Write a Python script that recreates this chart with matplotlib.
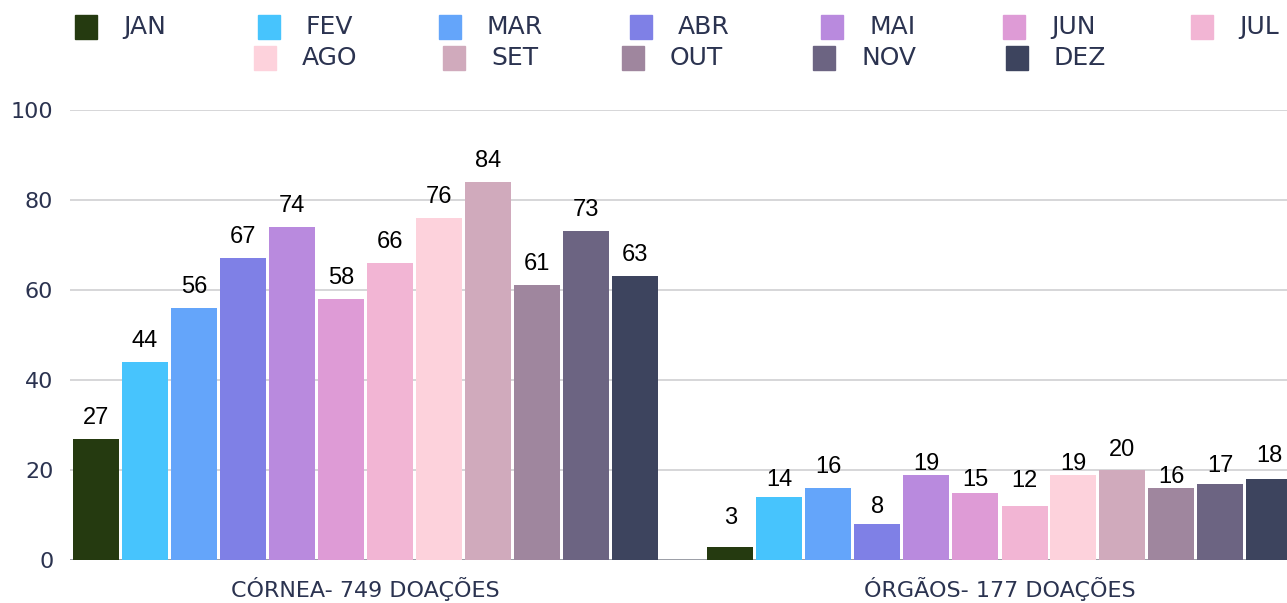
import matplotlib
matplotlib.use('Agg')
import matplotlib.pyplot as plt
from matplotlib.patches import Rectangle

months = ['JAN', 'FEV', 'MAR', 'ABR', 'MAI', 'JUN', 'JUL', 'AGO', 'SET', 'OUT', 'NOV', 'DEZ']
groups = ['CÓRNEA- 749 DOAÇÕES', 'ÓRGÃOS- 177 DOAÇÕES']
cornea = [27, 44, 56, 67, 74, 58, 66, 76, 84, 61, 73, 63]
orgaos = [3, 14, 16, 8, 19, 15, 12, 19, 20, 16, 17, 18]
colors = ['#253a10', '#47c4fd', '#64a5fa', '#7f80e6', '#b98ade', '#de9bd6',
          '#f2b5d4', '#fdd2dc', '#d0aabc', '#9f869e', '#6c6482', '#3d445e']

W, H = 1287, 603
text_col = '#2b3350'
ui_font = ['DejaVu Sans']
num_font = ['Liberation Sans', 'DejaVu Sans']

fig = plt.figure(figsize=(W / 100, H / 100), dpi=100)
ax = fig.add_axes([70 / W, 43 / H, (W - 70) / W, 450 / H])

slot = 49 / 634.6
bw = 46 / 634.6
# label gaps (px) above bars, the second group is uneven in the original
pads = [[10] * 12, [18, 6, 10, 6, -1, 1, 14, -1, 9, 0, 6, 12]]

for g, vals in enumerate([cornea, orgaos]):
    for i, v in enumerate(vals):
        x = g + (i - 5.5) * slot
        ax.bar(x, v, width=bw, color=colors[i], zorder=3)
        ax.annotate(str(v), (x, v), xytext=(0, pads[g][i] * 0.72), textcoords='offset points',
                    ha='center', va='bottom', fontsize=17, family=num_font, color='black', zorder=4)

ax.set_ylim(0, 100)
ax.set_xlim((70 - 365.4) / 634.6, (W - 365.4) / 634.6)
ax.set_yticks(range(0, 101, 20))
ax.yaxis.grid(True, color='#d3d3d6', lw=1.3, zorder=0)
ax.axhline(0, color='#8a8e98', lw=1.8, zorder=2)
for s in ax.spines.values():
    s.set_visible(False)
ax.set_xticks([0, 1])
ax.set_xticklabels(groups)
ax.tick_params(length=0, labelsize=16, labelcolor=text_col)
ax.tick_params(axis='y', pad=12)
ax.tick_params(axis='x', pad=12)
for lab in ax.get_xticklabels() + ax.get_yticklabels():
    lab.set_family(ui_font)

# legend, two rows laid out like the original
row1_x = [75, 258, 439, 630, 821, 1003, 1191]
row2_x = [254, 443, 622, 813, 1006]
for i, m in enumerate(months):
    if i < 7:
        px, py = row1_x[i], 27
    else:
        px, py = row2_x[i - 7], 58
    fig.patches.append(Rectangle((px / W, 1 - (py + 11.5) / H), 22 / W, 23 / H,
                                 transform=fig.transFigure, color=colors[i]))
    fig.text((px + 48) / W, 1 - py / H, m, ha='left', va='center', fontsize=18,
             family=ui_font, color=text_col)

fig.savefig('out.png', dpi=100)
